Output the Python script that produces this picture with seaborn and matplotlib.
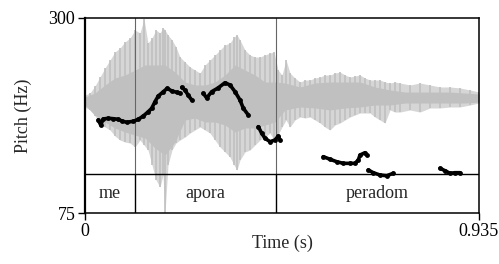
import numpy as np
import pandas as pd
import matplotlib
matplotlib.use("Agg")
import matplotlib.pyplot as plt
import matplotlib.transforms as mtransforms
import seaborn as sns

# --- waveform: outer envelope of the spikes (time in s, relative amplitude) ---
wave_time = [0.0, 0.0119, 0.0237, 0.0356, 0.0475, 0.0593, 0.0712, 0.0831, 0.0949, 0.1068,
             0.1187, 0.1305, 0.1400, 0.1495, 0.1590, 0.1685, 0.1780, 0.1851, 0.1898, 0.1970,
             0.2064, 0.2159, 0.2254, 0.2373, 0.2492, 0.2610, 0.2729, 0.2848, 0.2966, 0.3085,
             0.3204, 0.3322, 0.3441, 0.3536, 0.3607, 0.3678, 0.3797, 0.3915, 0.4034, 0.4153,
             0.4271, 0.4390, 0.4485, 0.4580, 0.4675, 0.4770, 0.4865, 0.4983, 0.5102, 0.5221,
             0.5339, 0.5458, 0.5577, 0.5695, 0.5814, 0.5933, 0.6051, 0.6170, 0.6289, 0.6407,
             0.6526, 0.6645, 0.6763, 0.6882, 0.7001, 0.7119, 0.7238, 0.7357, 0.7475, 0.7712,
             0.7950, 0.8187, 0.8424, 0.8662, 0.8899, 0.9136, 0.935]
wave_upper = [0.072, 0.096, 0.181, 0.289, 0.398, 0.494, 0.590, 0.639, 0.711, 0.759,
              0.855, 0.819, 0.988, 0.699, 0.759, 0.855, 0.819, 0.880, 0.855, 0.795,
              0.735, 0.651, 0.530, 0.470, 0.410, 0.373, 0.337, 0.434, 0.494, 0.554,
              0.614, 0.675, 0.699, 0.771, 0.795, 0.735, 0.614, 0.554, 0.530, 0.530,
              0.554, 0.578, 0.590, 0.373, 0.313, 0.494, 0.337, 0.277, 0.229, 0.253,
              0.253, 0.277, 0.289, 0.313, 0.313, 0.337, 0.349, 0.313, 0.289, 0.301,
              0.313, 0.277, 0.253, 0.253, 0.253, 0.229, 0.217, 0.229, 0.217, 0.193,
              0.217, 0.193, 0.169, 0.169, 0.157, 0.133, 0.108]
wave_lower = [-0.072, -0.108, -0.181, -0.265, -0.313, -0.349, -0.422, -0.470, -0.494, -0.506,
              -0.554, -0.470, -0.530, -0.590, -0.771, -0.952, -1.036, -0.892, -1.349, -0.771,
              -0.590, -0.506, -0.470, -0.434, -0.386, -0.349, -0.313, -0.349, -0.386, -0.470,
              -0.554, -0.614, -0.675, -0.771, -0.831, -0.711, -0.614, -0.590, -0.530, -0.470,
              -0.434, -0.386, -0.470, -0.410, -0.313, -0.229, -0.313, -0.229, -0.193, -0.205,
              -0.193, -0.229, -0.265, -0.313, -0.349, -0.289, -0.265, -0.229, -0.193, -0.169,
              -0.145, -0.145, -0.145, -0.193, -0.229, -0.265, -0.108, -0.133, -0.133, -0.108,
              -0.133, -0.084, -0.084, -0.072, -0.072, -0.048, -0.024]

# --- waveform: dense core ---
core_time = [0.0, 0.0237, 0.0475, 0.0712, 0.0949, 0.1187, 0.1424, 0.1661, 0.1898, 0.2136,
             0.2373, 0.2610, 0.2848, 0.3085, 0.3322, 0.3560, 0.3797, 0.4034, 0.4271, 0.4509,
             0.4746, 0.5102, 0.5458, 0.5814, 0.6170, 0.6526, 0.6882, 0.7238, 0.7594, 0.7950,
             0.8306, 0.8662, 0.9018, 0.935]
core_upper = [0.048, 0.096, 0.193, 0.277, 0.313, 0.373, 0.434, 0.434, 0.434, 0.349,
              0.229, 0.193, 0.193, 0.229, 0.313, 0.434, 0.373, 0.313, 0.229, 0.229,
              0.217, 0.169, 0.217, 0.229, 0.229, 0.229, 0.169, 0.133, 0.108, 0.108,
              0.108, 0.108, 0.096, 0.084]
core_lower = [-0.048, -0.169, -0.253, -0.325, -0.373, -0.410, -0.446, -0.566, -0.651, -0.494,
              -0.229, -0.205, -0.253, -0.253, -0.289, -0.373, -0.325, -0.325, -0.289, -0.253,
              -0.108, -0.072, -0.084, -0.108, -0.084, -0.072, -0.048, -0.048, -0.024, -0.024,
              -0.024, -0.024, -0.024, -0.012]

# --- pitch track, one list pair per voiced stretch ---
pitch_a_time = [0.0316, 0.0373, 0.0434, 0.0553, 0.0672, 0.0790, 0.0871, 0.0990, 0.1146, 0.1265,
                0.1383, 0.1502, 0.1583, 0.1661, 0.1739, 0.1844, 0.1953, 0.2057, 0.2176, 0.2254]
pitch_a_hz = [182.3, 176.5, 183.5, 184.3, 183.8, 183.1, 181.2, 179.7, 180.8, 183.1,
              186.9, 191.9, 195.8, 203.4, 210.0, 214.3, 218.9, 215.8, 214.3, 213.1]
pitch_b_time = [0.2295, 0.2373, 0.2444, 0.2532]
pitch_b_hz = [220.0, 216.9, 211.2, 205.4]
pitch_c_time = [0.2807, 0.2888, 0.3007, 0.3156, 0.3322, 0.3441, 0.3560, 0.3678, 0.3757, 0.3875]
pitch_c_hz = [213.1, 207.7, 215.0, 219.2, 225.3, 222.7, 215.0, 205.4, 195.8, 188.1]
pitch_d_time = [0.4113, 0.4193, 0.4272, 0.4390, 0.4509, 0.4587, 0.4627]
pitch_d_hz = [174.6, 167.0, 161.2, 157.3, 159.2, 163.8, 159.2]
pitch_e_time = [0.5655, 0.5814, 0.5973, 0.6130, 0.6289, 0.6407, 0.6486, 0.6526, 0.6645, 0.6685]
pitch_e_hz = [140.0, 137.0, 134.2, 132.3, 132.3, 132.3, 136.2, 141.9, 144.6, 141.9]
pitch_f_time = [0.6723, 0.6842, 0.7001, 0.7160, 0.7316]
pitch_f_hz = [124.6, 121.5, 118.8, 118.0, 120.8]
pitch_g_time = [0.8425, 0.8543, 0.8662, 0.8780, 0.8899]
pitch_g_hz = [126.6, 123.8, 120.8, 121.5, 121.5]

# --- text tier ---
tier_bounds = [0.0, 0.1194, 0.4532, 0.935]
tier_labels = ["me", "apora", "peradom"]

t_max = 0.935
f_min, f_max = 75, 300

segments = [(pitch_a_time, pitch_a_hz), (pitch_b_time, pitch_b_hz), (pitch_c_time, pitch_c_hz),
            (pitch_d_time, pitch_d_hz), (pitch_e_time, pitch_e_hz), (pitch_f_time, pitch_f_hz),
            (pitch_g_time, pitch_g_hz)]
rows = []
for i, (ts, hs) in enumerate(segments):
    for t, h in zip(ts, hs):
        rows.append({"time": t, "pitch": h, "seg": i})
df_pitch = pd.DataFrame(rows)

sns.set_theme(style="ticks")
plt.rcParams["font.family"] = ["Liberation Serif", "DejaVu Serif"]

fig = plt.figure(figsize=(4.99, 2.64), dpi=100)
ax = fig.add_axes([85 / 499, 1 - 213 / 264, 394 / 499, 195 / 264])
ax_w = ax.twinx()
ax.set_zorder(ax_w.get_zorder() + 1)
ax.patch.set_visible(False)

# waveform in the background: spike envelope, spikes, dense core
ax_w.fill_between(wave_time, wave_lower, wave_upper, color="#d6d6d6", linewidth=0)
ax_w.vlines(wave_time, wave_lower, wave_upper, color="#c0c0c0", lw=1.2)
ax_w.fill_between(core_time, core_lower, core_upper, color="#c0c0c0", linewidth=0)
ax_w.set_ylim(-1.349, 1.0)
ax_w.set_xlim(0, t_max)
ax_w.set_yticks([])
ax_w.tick_params(axis="both", length=0)
for sp in ax_w.spines.values():
    sp.set_visible(False)

# tier boundaries and tier line
trans = mtransforms.blended_transform_factory(ax.transData, ax.transAxes)
for b in tier_bounds[1:-1]:
    ax.plot([b, b], [0.2, 1.0], transform=trans, color="#666666", lw=0.8, zorder=2)
    ax.plot([b, b], [0.0, 0.2], transform=trans, color="black", lw=1.0, zorder=2)
ax.plot([0, 1], [0.2, 0.2], transform=ax.transAxes, color="black", lw=1.0, zorder=2)
for lab, a, b in zip(tier_labels, tier_bounds[:-1], tier_bounds[1:]):
    ax.text((a + b) / 2, 0.1, lab, transform=trans, ha="center", va="center", fontsize=13)

# pitch dots
sns.lineplot(data=df_pitch, x="time", y="pitch", units="seg", estimator=None, ax=ax,
             color="black", lw=2.6, marker="o", markersize=3.5, markeredgewidth=0,
             sort=False, legend=False, zorder=3)

ax.set_xlim(0, t_max)
ax.set_ylim(f_min, f_max)
ax.set_xticks([0, t_max])
ax.set_xticklabels(["0", "0.935"])
ax.set_yticks([f_min, f_max])
ax.set_yticklabels([str(f_min), str(f_max)])
ax.tick_params(axis="both", direction="out", length=5, width=1, labelsize=13, pad=2,
               colors="black")
ax.set_xlabel("Time (s)", fontsize=13)
ax.set_ylabel("Pitch (Hz)", fontsize=13)
ax.xaxis.set_label_coords(0.5, -0.11)
ax.yaxis.set_label_coords(-0.135, 0.5)
for sp in ax.spines.values():
    sp.set_visible(True)
    sp.set_color("black")
    sp.set_linewidth(1.1)
ax.spines["left"].set_linewidth(1.6)

fig.savefig("out.png", dpi=100)
